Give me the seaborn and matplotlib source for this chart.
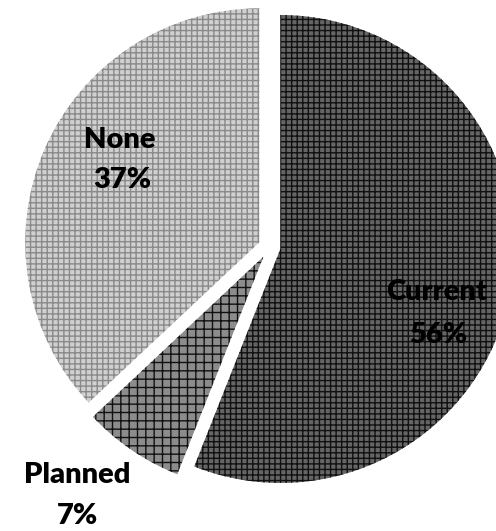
import matplotlib
matplotlib.use("Agg")
import matplotlib.pyplot as plt
import seaborn as sns

categories = ["Current", "Planned", "None"]
values = [56, 7, 37]
pct_labels = ["56%", "7%", "37%"]

sns.set_theme(style="white")
plt.rcParams['font.family'] = ['Lato', 'DejaVu Sans']
plt.rcParams['hatch.linewidth'] = 1.0

face_colors = ["#656565", "#8c8c8c", "#d0d0d0"]
hatch_colors = ["#111111", "#111111", "#8a8a8a"]
hatches = ["+++", "++", "+++"]

W, H = 496, 531
fig = plt.figure(figsize=(W / 100, H / 100), dpi=100)
ax = fig.add_axes([0, 0, 1, 1])

wedges, _ = ax.pie(values, startangle=90, counterclock=False,
                   explode=[0.045, 0.05, 0.05], radius=1.0,
                   colors=face_colors,
                   wedgeprops=dict(linewidth=0))
for w, hc, hp in zip(wedges, hatch_colors, hatches):
    w.set_hatch(hp)
    w.set_edgecolor(hc)
    w.set_linewidth(0)

# pixel -> data mapping (scale 234 px per unit, centre at px (270, 247))
s = 234.0
cx, cy = 270.0, 247.0
ax.set_xlim(-cx / s, (W - cx) / s)
ax.set_ylim((cy - H) / s, cy / s)
ax.set_aspect("auto")
ax.axis("off")

def px(x, y):
    return (x - cx) / s, (cy - y) / s

label_px = {
    "Current": ((437, 292), (438, 335)),
    "Planned": ((77, 475), (77, 516)),
    "None": ((120, 140), (122, 180)),
}
for cat, pl in zip(categories, pct_labels):
    (x1, y1), (x2, y2) = label_px[cat]
    ax.text(*px(x1, y1), cat, ha="center", va="center",
            fontsize=21, fontweight="heavy", color="black")
    ax.text(*px(x2, y2), pl, ha="center", va="center",
            fontsize=21, fontweight="heavy", color="black")

fig.savefig("out.png", dpi=100)
